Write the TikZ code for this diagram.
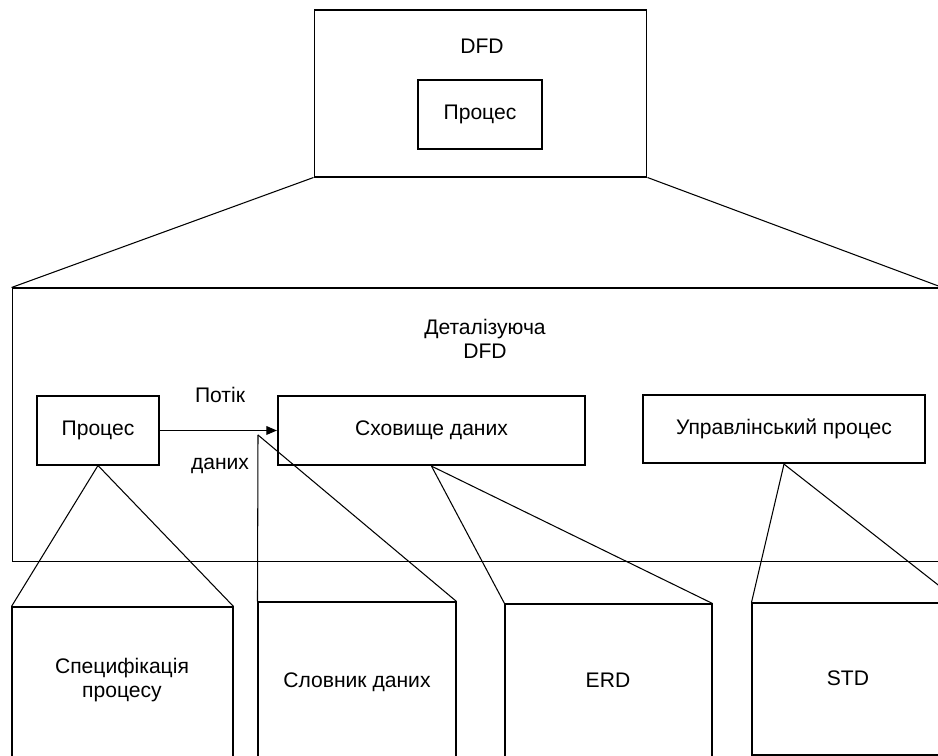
\documentclass[tikz,border=0pt]{standalone}
\usepackage{fontspec}
\setmainfont{Liberation Sans}
\usetikzlibrary{arrows.meta}
\tikzset{
	box/.style={draw, line width=0.6pt, inner sep=0pt},
	heavybox/.style={box, line width=1.3pt},
	link/.style={line width=0.6pt},
}
\begin{document}
\begin{tikzpicture}[x=0.02cm, y=-0.02cm, font=\fontsize{12}{14}\selectfont]
		%%%%% START %%%%%
		\useasboundingbox (0,0) rectangle (938,756);
		\clip (0,0) rectangle (938,756);
		
		% top level
		\node[box, minimum width=6.66cm, minimum height=3.34cm] (dfd) at (480.5, 93.5) {};
		\node (dfdtitle) at (482, 46) {DFD};
		\node[box, minimum width=2.48cm, minimum height=1.38cm] (topproc) at (480, 114.5) {Процес};
		
		% detailed DFD
		\node[box, minimum width=18.6cm, minimum height=5.48cm] (detail) at (477, 425) {};
		\node[align=center] (detailtitle) at (485, 339) {Деталізуюча\\DFD};
		\draw[link] (dfd.south west) -- (detail.north west);
		\draw[link] (dfd.south east) -- (detail.north east);
		
		\node[box, minimum width=2.44cm, minimum height=1.38cm] (proc) at (98, 430.5) {Процес};
		\node[heavybox, minimum width=6.14cm, minimum height=1.38cm] (store) at (431.5, 430.5) {Сховище даних};
		\node[heavybox, minimum width=5.64cm, minimum height=1.36cm] (ctrl) at (784, 429) {Управлінський процес};
		
		\draw[link, -{Triangle[length=6pt, width=5pt]}] (proc.east) -- (store.west);
		\node (flowtop) at (220, 395) {Потік};
		\node (flowbot) at (220, 466) {даних};
		\coordinate (flow) at (258, 435);
		
		% lower level
		\node[box, minimum width=4.42cm, minimum height=3.3cm] (spec) at (122.5, 689.5) {};
		\node[align=center] (spectext) at (122, 680) {Специфікація\\процесу};
		\node[box, minimum width=3.96cm, minimum height=3.4cm] (dict) at (357, 687) {};
		\node (dicttext) at (357, 682) {Словник даних};
		\node[box, minimum width=4.14cm, minimum height=3.3cm] (erd) at (608.5, 686.5) {};
		\node (erdtext) at (608, 680) {ERD};
		\node[box, minimum width=4.16cm, minimum height=3.04cm] (std) at (856, 679) {};
		\node (stdtext) at (848, 678) {STD};
		
		\draw[link] (proc.south) -- (spec.north west);
		\draw[link] (proc.south) -- (spec.north east);
		\draw[link] (flow) -- (dict.north west);
		\draw[link] (flow) -- (dict.north east);
		\draw[link] (store.south) -- (erd.north west);
		\draw[link] (store.south) -- (erd.north east);
		\draw[link] (ctrl.south) -- (std.north west);
		\draw[link] (ctrl.south) -- (std.north east);
		%%%%% END %%%%%
\end{tikzpicture}
\end{document}
